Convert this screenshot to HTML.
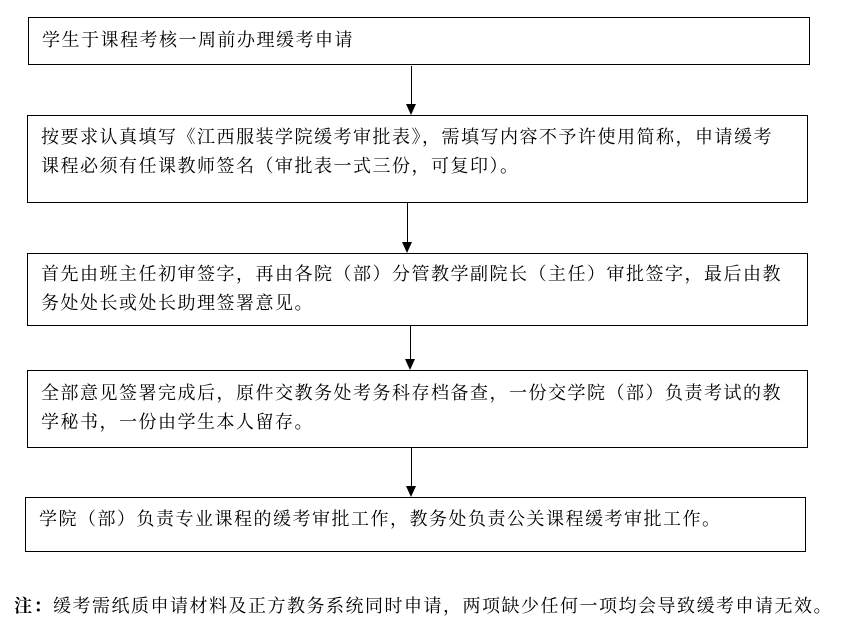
<!DOCTYPE html>
<html><head><meta charset="utf-8"><style>
body{margin:0;width:842px;height:619px;background:#fff;position:relative;overflow:hidden;font-family:"Liberation Serif","Noto Serif CJK SC",serif;font-size:18px;letter-spacing:1.5px;color:#000}
.b{position:absolute;border:1.5px solid #000;box-sizing:border-box;padding-left:13px;line-height:29px;white-space:nowrap}
.l{position:absolute;width:0;border-left:1.5px solid #000}
.a{position:absolute;width:0;height:0;border-left:5px solid transparent;border-right:5px solid transparent;border-top:11px solid #000}
</style></head><body>
<div class="b" style="left:28px;top:17px;width:782px;height:48px;padding-top:8px">学生于课程考核一周前办理缓考申请</div>
<div class="l" style="left:411px;top:66px;height:40px"></div><div class="a" style="left:406px;top:104px"></div>
<div class="b" style="left:27px;top:115px;width:781px;height:88px;padding-top:7px">按要求认真填写《江西服装学院缓考审批表》，需填写内容不予许使用简称，申请缓考<br>课程必须有任课教师签名（审批表一式三份，可复印）。</div>
<div class="l" style="left:407px;top:203px;height:40px"></div><div class="a" style="left:402px;top:242px"></div>
<div class="b" style="left:27px;top:253px;width:781px;height:73px;padding-top:6px">首先由班主任初审签字，再由各院（部）分管教学副院长（主任）审批签字，最后由教<br>务处处长或处长助理签署意见。</div>
<div class="l" style="left:410px;top:326px;height:34px"></div><div class="a" style="left:405px;top:359px"></div>
<div class="b" style="left:27px;top:370px;width:781px;height:78px;padding-top:8px">全部意见签署完成后，原件交教务处考务科存档备查，一份交学院（部）负责考试的教<br>学秘书，一份由学生本人留存。</div>
<div class="l" style="left:411px;top:448px;height:40px"></div><div class="a" style="left:406px;top:486px"></div>
<div class="b" style="left:25px;top:497px;width:781px;height:55px;padding-top:7px">学院（部）负责专业课程的缓考审批工作，教务处负责公关课程缓考审批工作。</div>
<div style="position:absolute;left:14px;top:592px;white-space:nowrap"><b>注：</b>缓考需纸质申请材料及正方教务系统同时申请，两项缺少任何一项均会导致缓考申请无效。</div>
</body></html>
